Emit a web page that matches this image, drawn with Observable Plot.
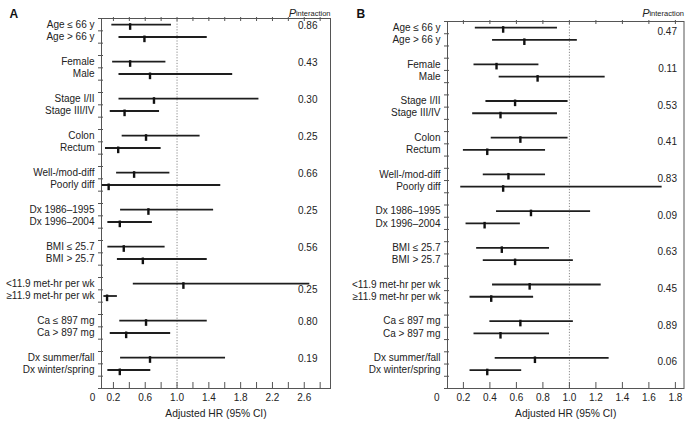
<!DOCTYPE html>
<html><head><meta charset="utf-8">
<script src="https://cdn.jsdelivr.net/npm/d3@7"></script>
<script src="https://cdn.jsdelivr.net/npm/@observablehq/plot@0.6"></script>
<style>
body{margin:0;background:#fff;}
#wrap{position:relative;width:685px;height:421px;overflow:hidden;}
#wrap svg{position:absolute;top:0;overflow:visible;}
</style></head><body><div id="wrap"></div>
<script>
// Row labels (two per subgroup comparison)
const labels = ["Age ≤ 66 y","Age > 66 y","Female","Male","Stage I/II","Stage III/IV","Colon","Rectum",
  "Well-/mod-diff","Poorly diff","Dx 1986–1995","Dx 1996–2004","BMI ≤ 25.7","BMI > 25.7",
  "<11.9 met-hr per wk","≥11.9 met-hr per wk","Ca ≤ 897 mg","Ca > 897 mg","Dx summer/fall","Dx winter/spring"];

// Panel A: adjusted HR and 95% CI
const aEst = [0.41,0.59,0.41,0.66,0.71,0.34,0.61,0.26,0.46,0.14,0.64,0.28,0.33,0.57,1.08,0.12,0.61,0.36,0.66,0.28];
const aLo  = [0.18,0.27,0.19,0.27,0.27,0.16,0.31,0.10,0.24,0.06,0.29,0.13,0.13,0.25,0.45,0.08,0.28,0.16,0.29,0.13];
const aHi  = [0.93,1.38,0.86,1.70,2.03,0.78,1.29,0.80,0.91,1.55,1.46,0.69,0.85,1.38,2.67,0.25,1.38,0.92,1.61,0.67];
const aP   = [0.86,0.43,0.30,0.25,0.66,0.25,0.56,0.25,0.80,0.19];

// Panel B: adjusted HR and 95% CI
const bEst = [0.50,0.66,0.45,0.76,0.59,0.48,0.63,0.38,0.54,0.50,0.71,0.36,0.49,0.59,0.70,0.41,0.63,0.48,0.74,0.38];
const bLo  = [0.29,0.42,0.28,0.47,0.37,0.27,0.41,0.20,0.35,0.18,0.45,0.22,0.30,0.35,0.42,0.25,0.40,0.28,0.44,0.25];
const bHi  = [0.91,1.06,0.77,1.27,0.99,0.91,0.99,0.82,0.82,1.70,1.16,0.63,0.85,1.03,1.24,0.73,1.03,0.85,1.30,0.64];
const bP   = [0.47,0.11,0.53,0.41,0.83,0.09,0.63,0.45,0.89,0.06];

// Axis ticks and tick labels
const aTicks = [0.2,0.4,0.6,0.8,1.0,1.2,1.4,1.6,1.8,2.0,2.2,2.4,2.6,2.8];
const aTickLabels = [0.2,0.6,1.0,1.4,1.8,2.2,2.6];
const bTicks = [0.2,0.4,0.6,0.8,1.0,1.2,1.4,1.6,1.8];
const bTickLabels = [0.2,0.4,0.6,0.8,1.0,1.2,1.4,1.6,1.8];
const xTitle = "Adjusted HR (95% CI)";

const H = 421;
const ink = "#1e1e1e";
const axisInk = "#555";

function panel(o) {
  const rows = labels.map((label, i) => ({
    label, est: o.est[i], lo: o.lo[i], hi: o.hi[i],
    slot: Math.floor(i / 2) * 3 + (i % 2) + 0.5
  }));
  const groups = o.p.map((p, g) => {
    const first = rows[2 * g];
    const off = o.pMid(first) ? 1.0 : o.pOff;
    return {p, y: g * 3 + off};
  });
  const svg = Plot.plot({
    width: o.width, height: H,
    marginLeft: o.mLeft, marginRight: o.mRight, marginTop: o.mTop, marginBottom: 33,
    style: {fontFamily: "'Liberation Sans', Arial, Helvetica, sans-serif", fontSize: "10px", color: "#222", background: "transparent"},
    x: {domain: o.domain, label: null},
    y: {domain: [0, 30], reverse: true, label: null},
    marks: [
      Plot.ruleX([1], {stroke: "#8a8a8a", strokeDasharray: "1.2,1.6", strokeWidth: 1}),
      Plot.frame({stroke: axisInk, strokeWidth: 1}),
      Plot.axisY({anchor: "left", ticks: d3.range(0, 31), tickSize: 5, dx: 2, tickFormat: () => "", stroke: axisInk}),
      Plot.axisX({anchor: "bottom", ticks: o.ticks, tickSize: 6, dy: -6, tickFormat: () => "", stroke: axisInk}),
      Plot.axisX({anchor: "top", ticks: o.ticks, tickSize: 4, dy: 2, tickFormat: () => "", stroke: axisInk}),
      Plot.ruleY(rows, {y: "slot", x1: "lo", x2: "hi", stroke: ink, strokeWidth: 1.8}),
      Plot.ruleX(rows, {x: "est", y1: d => d.slot - 0.08, y2: d => d.slot + 0.46, stroke: "#111", strokeWidth: 2.4}),
      Plot.text(rows, {y: "slot", text: "label", frameAnchor: "left", textAnchor: "end", dx: -7, fill: "#222"}),
      Plot.text(groups, {y: "y", text: d => d.p.toFixed(2), frameAnchor: "right", textAnchor: "end", dx: o.pDx, fill: "#222"}),
      Plot.text(o.tickLabels, {x: d => d, text: d => d.toFixed(1), frameAnchor: "bottom", dy: 12, fill: "#222"}),
      Plot.text([0], {x: d => d, text: d => String(d), frameAnchor: "bottom", dy: 12, dx: o.zeroDx, fill: "#222"}),
      Plot.text([xTitle], {text: d => d, frameAnchor: "bottom", dy: 28, fill: "#222", fontSize: 10.3}),
      Plot.text([o.letter], {text: d => d, frameAnchor: "top-left", dx: -(o.mLeft - o.letterX), dy: -o.mTop + 9, fontWeight: "bold", fontSize: 12, fill: "#111"}),
      Plot.text(["interaction"], {text: d => d, frameAnchor: "top-right", textAnchor: "end", dy: -o.mTop + 10, fontSize: 7.5, fill: "#222"}),
      Plot.text(["P"], {text: d => d, frameAnchor: "top-right", textAnchor: "end", dx: -34.5, dy: -o.mTop + 8.5, fontSize: 11, fontStyle: "italic", fill: "#222"})
    ]
  });
  svg.style.left = o.left + "px";
  document.getElementById("wrap").appendChild(svg);
}

panel({est: aEst, lo: aLo, hi: aHi, p: aP, domain: [0.05, 2.93], ticks: aTicks, tickLabels: aTickLabels,
  left: 0, width: 342, mLeft: 101, mRight: 12, mTop: 18, letter: "A", letterX: 9, pDx: -13, zeroDx: -5,
  pOff: 0.6, pMid: r => r.hi > 2.4});
panel({est: bEst, lo: bLo, hi: bHi, p: bP, domain: [0.08, 1.865], ticks: bTicks, tickLabels: bTickLabels,
  left: 342, width: 343, mLeft: 105, mRight: 1.5, mTop: 21, letter: "B", letterX: 14, pDx: -7, zeroDx: 0,
  pOff: 0.85, pMid: r => false});
</script>
</body></html>
